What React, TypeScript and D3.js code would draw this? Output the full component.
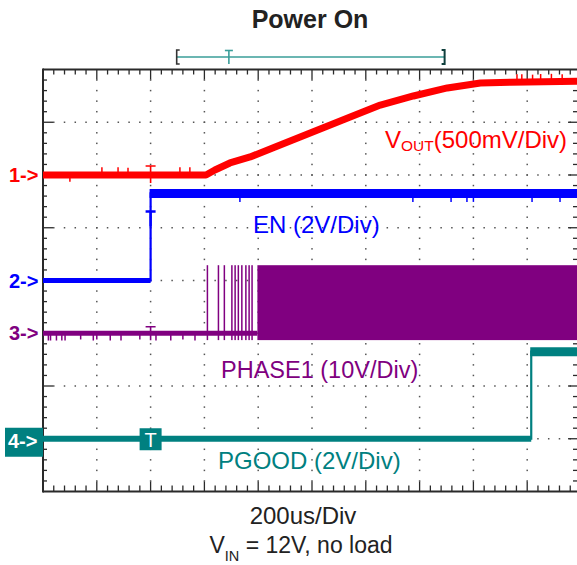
import React from 'react';
import * as d3 from 'd3';

// scope settings: 200us/div, 10 divisions, trigger at 2nd division
const timeDomain = [-400, 1600];
const divDomain = [-4, 4];

// CH1 VOUT (V)
const voutTime = [-400, 206, 239, 295, 370, 463, 556, 649, 742, 854, 977, 1103, 1226, 1338, 1600];
const voutVolt = [0, 0, 0.047, 0.114, 0.171, 0.265, 0.36, 0.455, 0.55, 0.663, 0.749, 0.825, 0.872, 0.88, 0.89];
const voutGlitchTime = [-300, -181, -121, -84, 109, 146, 1362, 1380, 1420, 1450, 1490, 1530];
const voutGlitchAmp = [-0.03, 0.04, 0.04, 0.035, 0.04, 0.04, 0.04, 0.04, 0.035, 0.04, 0.04, 0.035];

// CH2 EN (V)
const enTime = [-400, 0, 0, 1600];
const enVolt = [0, 0, 3.3, 3.3];
const enGlitchTime = [332, 975, 1117, 1176, 1200, 1418, 1522];
const enGlitchAmp = [-0.15, -0.15, -0.15, -0.15, -0.15, -0.15, -0.15];

// CH3 PHASE1 (V)
const phaseHigh = 12.9;
const phaseLow = -1.3;
const phasePulseTime = [211, 252, 274, 302, 314, 326, 339, 354, 366, 377];
const phaseDenseStart = 397;
const phaseGlitchTime = [-380, -372, -350, -330, -318, -260, -213, -200, -150, -110, -40, 20, 75, 120, 165];
const phaseGlitchAmp = [-1, -1, -1, -1, -1, -0.8, -1, -0.8, -1, -1, -0.8, -1, -1, -0.8, -1];

// CH4 PGOOD (V)
const pgTime = [-400, 1415, 1415, 1600];
const pgVolt = [0, 0, 3.3, 3.3];

// timebase memory bracket (us)
const bracketStart = 97;
const bracketEnd = 1093;
const bracketTrig = 291;

const ch1 = { offset: 2, vPerDiv: 0.5, color: '#ff0000' };
const ch2 = { offset: 0, vPerDiv: 2, color: '#0000ff' };
const ch3 = { offset: -1, vPerDiv: 10, color: '#800080' };
const ch4 = { offset: -3, vPerDiv: 2, color: '#008080' };

const FONT = '"Liberation Sans", Arial, Helvetica, sans-serif';

export default function App() {
  const W = 577, H = 565;
  const left = 43, top = 69.5, bottom = 491.5, rightEdge = 578;
  const x = d3.scaleLinear().domain(timeDomain).range([left, 581]);
  const yDiv = d3.scaleLinear().domain(divDomain).range([bottom, top]);
  const cy = (ch: any, v: number) => yDiv(ch.offset + v / ch.vPerDiv);

  const hStep = (x(1600) - x(-400)) / 50;
  const vStep = (bottom - top) / 40;

  const line = (ch: any) =>
    d3.line<[number, number]>().x(d => x(d[0])).y(d => cy(ch, d[1]));
  const pts = (t: number[], v: number[]) => t.map((tt, i) => [tt, v[i]] as [number, number]);

  const voutInterp = d3.scaleLinear().domain(voutTime).range(voutVolt);

  // grid dots
  const dots: [number, number][] = [];
  for (let k = 1; k <= 9; k++) {
    const gx = x(-400 + k * 200);
    for (let j = 1; j < 40; j++) dots.push([gx, top + j * vStep]);
  }
  for (let k = 1; k <= 7; k++) {
    const gy = yDiv(-4 + k);
    for (let j = 1; left + j * hStep < W - 4; j++) dots.push([left + j * hStep, gy]);
  }

  const hTicks = d3.range(1, 50).map(j => ({ px: left + j * hStep, major: j % 5 === 0 })).filter(d => d.px < W);
  const vTicks = d3.range(1, 40).map(j => ({ py: top + j * vStep, major: j % 5 === 0 }));

  const trigX = x(0);
  const axisColor = '#2a2a2a';

  return (
    <div style={{ position: 'absolute', left: 0, top: 0, width: W, height: H, background: '#fff' }}>
      <svg width={W} height={H} style={{ display: 'block', fontFamily: FONT }}>
        <rect width={W} height={H} fill="#fff" />
        <text x={310} y={28} textAnchor="middle" fontSize={25} fontWeight="bold" fill="#222">Power On</text>

        {/* memory bracket */}
        <g stroke="#3a9e99" strokeWidth={1.6} fill="none">
          <line x1={x(bracketStart)} x2={x(bracketEnd)} y1={57} y2={57} />
          <line x1={x(bracketTrig) - 4} x2={x(bracketTrig) + 4} y1={50.5} y2={50.5} />
          <line x1={x(bracketTrig)} x2={x(bracketTrig)} y1={50.5} y2={64} />
          <path d={`M${x(bracketStart) + 3},50 H${x(bracketStart)} V64 H${x(bracketStart) + 3}`} stroke="#333" />
          <path d={`M${x(bracketEnd) - 3},50 H${x(bracketEnd)} V64 H${x(bracketEnd) - 3}`} stroke="#0f3f3c" strokeWidth={2} />
        </g>

        {/* grid dots */}
        <g fill="#555">
          {dots.map((d, i) => <rect key={i} x={d[0] - 0.75} y={d[1] - 0.75} width={1.5} height={1.5} />)}
        </g>

        {/* frame and ticks */}
        <g stroke={axisColor} strokeWidth={1.3}>
          {hTicks.map((t, i) => (
            <g key={'h' + i}>
              <line x1={t.px} x2={t.px} y1={top} y2={top + (t.major ? 10 : 5)} />
              <line x1={t.px} x2={t.px} y1={bottom} y2={bottom - (t.major ? 10 : 6)} />
            </g>
          ))}
          {vTicks.map((t, i) => (
            <g key={'v' + i}>
              <line x1={left} x2={left + (t.major ? 10 : 4)} y1={t.py} y2={t.py} />
              <line x1={rightEdge} x2={rightEdge - (t.major ? 10 : 5)} y1={t.py} y2={t.py} />
            </g>
          ))}
        </g>
        <g stroke={axisColor} strokeWidth={2} fill="none">
          <line x1={left} x2={W} y1={top} y2={top} />
          <line x1={left} x2={W} y1={bottom} y2={bottom} />
          <line x1={left} x2={left} y1={top - 1} y2={bottom + 1} />
        </g>

        {/* CH3 PHASE1 */}
        <g>
          <line x1={x(-400)} x2={x(phaseDenseStart)} y1={cy(ch3, 0)} y2={cy(ch3, 0)} stroke={ch3.color} strokeWidth={5} />
          {phaseGlitchTime.map((t, i) => (
            <line key={i} x1={x(t)} x2={x(t)} y1={cy(ch3, 0)} y2={cy(ch3, phaseGlitchAmp[i]) + 2} stroke={ch3.color} strokeWidth={1.5} />
          ))}
          {phasePulseTime.map((t, i) => (
            <rect key={i} x={x(t) - 0.7} width={1.5} y={cy(ch3, phaseHigh)} height={cy(ch3, phaseLow) - cy(ch3, phaseHigh)} fill={ch3.color} />
          ))}
          <rect x={x(phaseDenseStart)} width={W - x(phaseDenseStart)} y={cy(ch3, phaseHigh)}
            height={cy(ch3, phaseLow) - cy(ch3, phaseHigh)} fill={ch3.color} />
          <path d={`M${trigX - 5},${cy(ch3, 0) - 6.5} H${trigX + 5} M${trigX},${cy(ch3, 0) - 6.5} V${cy(ch3, 0) + 7}`} stroke={ch3.color} strokeWidth={1.6} fill="none" />
        </g>

        {/* CH4 PGOOD */}
        <g fill="none" stroke={ch4.color}>
          <path d={line(ch4)(pts(pgTime, pgVolt)) || ''} strokeWidth={2.2} />
          <line x1={x(-400)} x2={x(pgTime[1])} y1={cy(ch4, 0)} y2={cy(ch4, 0)} strokeWidth={6} />
          <line x1={x(pgTime[2]) - 1} x2={W} y1={cy(ch4, 3.3)} y2={cy(ch4, 3.3)} strokeWidth={9} />
        </g>
        <rect x={trigX - 11} y={cy(ch4, 0) - 10.5} width={22} height={22} fill={ch4.color} />
        <text x={trigX} y={cy(ch4, 0) + 8} textAnchor="middle" fontSize={20} fill="#fff">T</text>

        {/* CH2 EN */}
        <g fill="none" stroke={ch2.color}>
          <path d={line(ch2)(pts(enTime, enVolt)) || ''} strokeWidth={2.2} />
          <line x1={x(-400)} x2={x(0)} y1={cy(ch2, 0)} y2={cy(ch2, 0)} strokeWidth={5} />
          <line x1={x(0) - 1} x2={W} y1={cy(ch2, 3.3)} y2={cy(ch2, 3.3)} strokeWidth={9} />
          {enGlitchTime.map((t, i) => (
            <line key={i} x1={x(t)} x2={x(t)} y1={cy(ch2, 3.3)} y2={cy(ch2, 3.3 + enGlitchAmp[i]) + 4.5} strokeWidth={1.5} />
          ))}
          <path d={`M${trigX - 5},${cy(ch2, 0) - 69} H${trigX + 5} M${trigX},${cy(ch2, 0) - 69} V${cy(ch2, 0) - 54}`} strokeWidth={2.4} />
        </g>

        {/* CH1 VOUT */}
        <g fill="none" stroke={ch1.color}>
          <path d={line(ch1)(pts(voutTime, voutVolt)) || ''} strokeWidth={7} strokeLinejoin="round" />
          {voutGlitchTime.map((t, i) => {
            const base = cy(ch1, voutInterp(t));
            const tip = cy(ch1, voutInterp(t) + voutGlitchAmp[i]);
            return <line key={i} x1={x(t)} x2={x(t)} y1={base} y2={tip + (tip < base ? -3.5 : 3.5)} strokeWidth={1.5} />;
          })}
          <path d={`M${trigX - 5},${cy(ch1, 0) - 9} H${trigX + 5} M${trigX},${cy(ch1, 0) - 9} V${cy(ch1, 0) + 8}`} strokeWidth={1.6} />
        </g>

        {/* channel markers */}
        <g fontSize={20} fontWeight="bold">
          <text x={9} y={cy(ch1, 0) + 7} fill={ch1.color}>1-&gt;</text>
          <text x={9} y={cy(ch2, 0) + 7} fill={ch2.color}>2-&gt;</text>
          <text x={9} y={cy(ch3, 0) + 7} fill={ch3.color}>3-&gt;</text>
          <rect x={5} y={cy(ch4, 0) - 11} width={38} height={29} fill={ch4.color} />
          <text x={8} y={cy(ch4, 0) + 9} fill="#fff">4-&gt;</text>
        </g>

        {/* channel labels */}
        <text x={385} y={148} fontSize={24} fill={ch1.color}>
          V<tspan fontSize={15.5} dy={3}>OUT</tspan><tspan dy={-3}>(500mV/Div)</tspan>
        </text>
        <text x={253} y={233} fontSize={24} fill={ch2.color}>EN (2V/Div)</text>
        <text x={221} y={378} fontSize={23.5} fill={ch3.color}>PHASE1 (10V/Div)</text>
        <text x={218} y={469} fontSize={24} fill={ch4.color}>PGOOD (2V/Div)</text>

        {/* footer */}
        <text x={303} y={524} textAnchor="middle" fontSize={24} fill="#222">200us/Div</text>
        <text x={301} y={553} textAnchor="middle" fontSize={23} fill="#222">
          V<tspan fontSize={14.5} dy={8}>IN</tspan><tspan dy={-8}> = 12V, no load</tspan>
        </text>
      </svg>
    </div>
  );
}
